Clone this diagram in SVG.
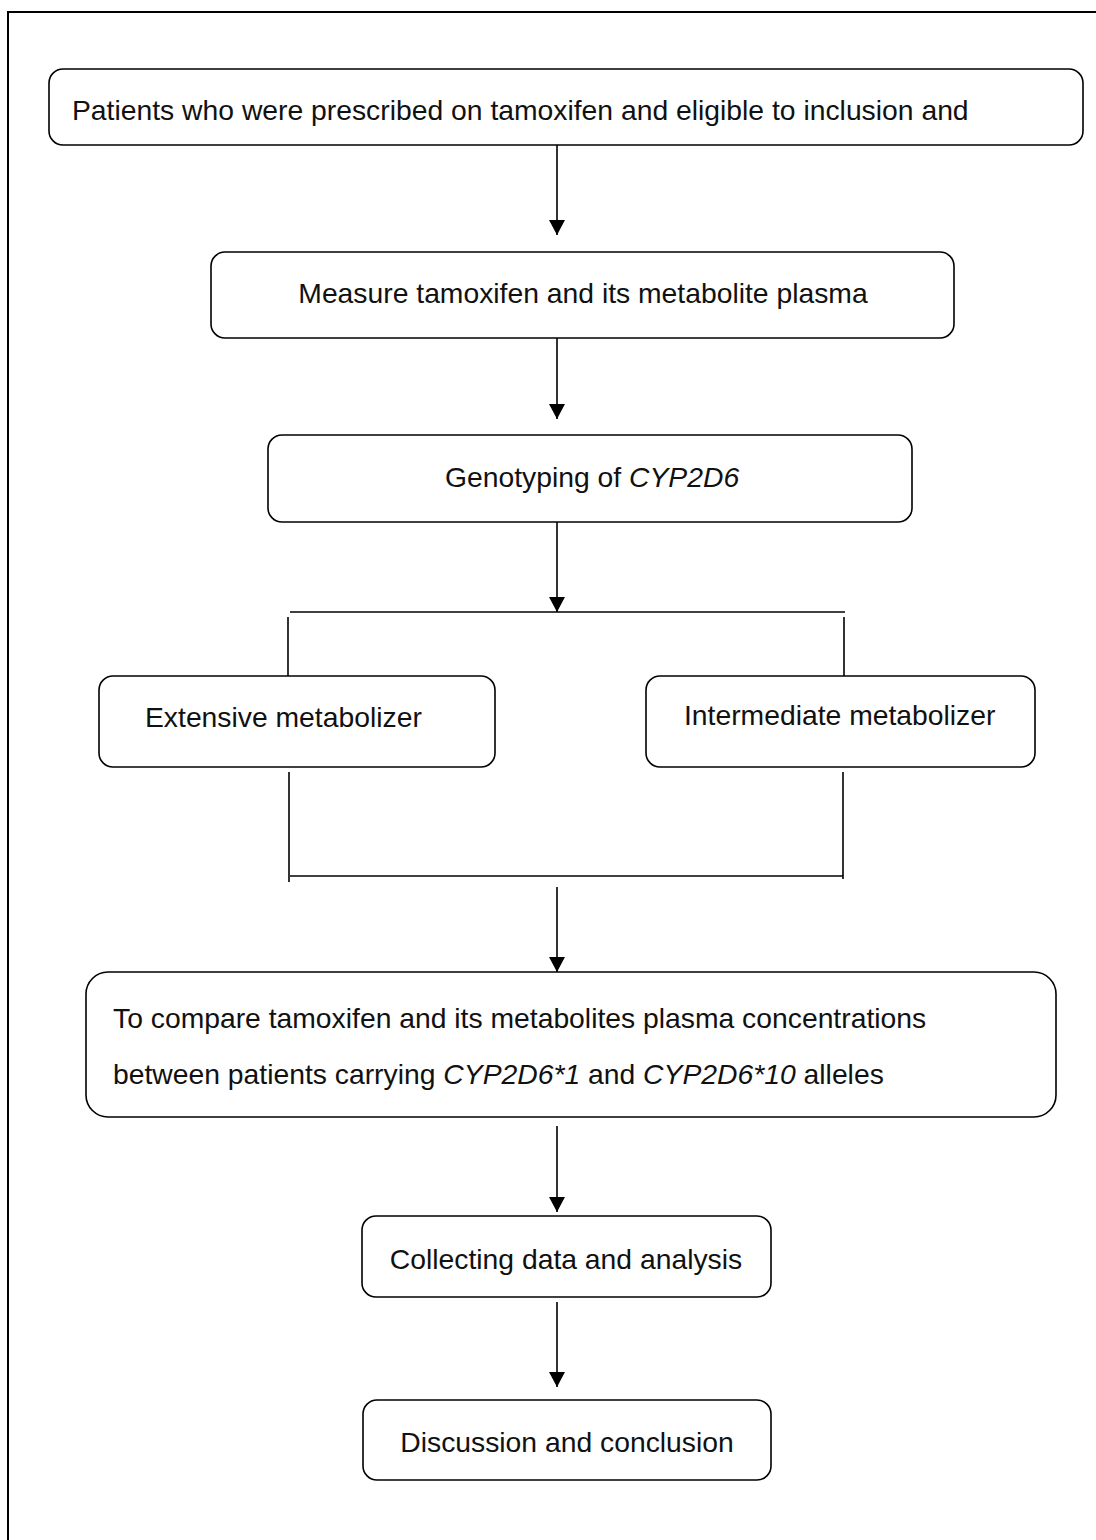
<svg xmlns="http://www.w3.org/2000/svg" width="1096" height="1540" viewBox="0 0 1096 1540">
<style>
.box{fill:#fff;stroke:#000;stroke-width:1.6}
.t{font-family:"Liberation Sans",Arial,sans-serif;font-size:28.3px;fill:#111}
.i{font-style:italic}
.ln{stroke:#000;stroke-width:1.6;fill:none}
</style>
<defs>
<marker id="ah" markerWidth="16" markerHeight="16" refX="15" refY="8" orient="auto" markerUnits="userSpaceOnUse">
<path d="M0,0 L15,8 L0,16 Z" fill="#000"/>
</marker>
</defs>
<rect width="1096" height="1540" fill="#fff"/>
<g id="frame"><path d="M8,1540 V12 H1096" fill="none" stroke="#000" stroke-width="2"/></g>
<g id="n1"><rect class="box" x="49" y="69" width="1034" height="76" rx="14"/>
<text class="t" x="72" y="120">Patients who were prescribed on tamoxifen and eligible to inclusion and</text></g>
<g id="n2"><rect class="box" x="211" y="252" width="743" height="86" rx="14"/>
<text class="t" x="583" y="303" text-anchor="middle">Measure tamoxifen and its metabolite plasma</text></g>
<g id="n3"><rect class="box" x="268" y="435" width="644" height="87" rx="14"/>
<text class="t" x="445" y="487">Genotyping of <tspan class="i">CYP2D6</tspan></text></g>
<g id="n4"><rect class="box" x="99" y="676" width="396" height="91" rx="14"/>
<text class="t" x="145" y="727">Extensive metabolizer</text></g>
<g id="n5"><rect class="box" x="646" y="676" width="389" height="91" rx="14"/>
<text class="t" x="684" y="725">Intermediate metabolizer</text></g>
<g id="n6"><rect class="box" x="86" y="972" width="970" height="145" rx="22"/>
<text class="t" x="113" y="1028">To compare tamoxifen and its metabolites plasma concentrations</text>
<text class="t" x="113" y="1084">between patients carrying <tspan class="i">CYP2D6*1</tspan> and <tspan class="i">CYP2D6*10</tspan> alleles</text></g>
<g id="n7"><rect class="box" x="362" y="1216" width="409" height="81" rx="14"/>
<text class="t" x="566" y="1269" text-anchor="middle">Collecting data and analysis</text></g>
<g id="n8"><rect class="box" x="363" y="1400" width="408" height="80" rx="14"/>
<text class="t" x="567" y="1452" text-anchor="middle">Discussion and conclusion</text></g>
<g id="connectors">
<line class="ln" x1="557" y1="145" x2="557" y2="235" marker-end="url(#ah)"/>
<line class="ln" x1="557" y1="338" x2="557" y2="419" marker-end="url(#ah)"/>
<line class="ln" x1="557" y1="522" x2="557" y2="612" marker-end="url(#ah)"/>
<line class="ln" x1="290" y1="612" x2="845" y2="612"/>
<line class="ln" x1="288" y1="617" x2="288" y2="676"/>
<line class="ln" x1="844" y1="617" x2="844" y2="676"/>
<line class="ln" x1="289" y1="772" x2="289" y2="882"/>
<line class="ln" x1="843" y1="772" x2="843" y2="879"/>
<line class="ln" x1="290" y1="876" x2="843" y2="876"/>
<line class="ln" x1="557" y1="887" x2="557" y2="972" marker-end="url(#ah)"/>
<line class="ln" x1="557" y1="1126" x2="557" y2="1212" marker-end="url(#ah)"/>
<line class="ln" x1="557" y1="1302" x2="557" y2="1387" marker-end="url(#ah)"/>
</g>
</svg>
